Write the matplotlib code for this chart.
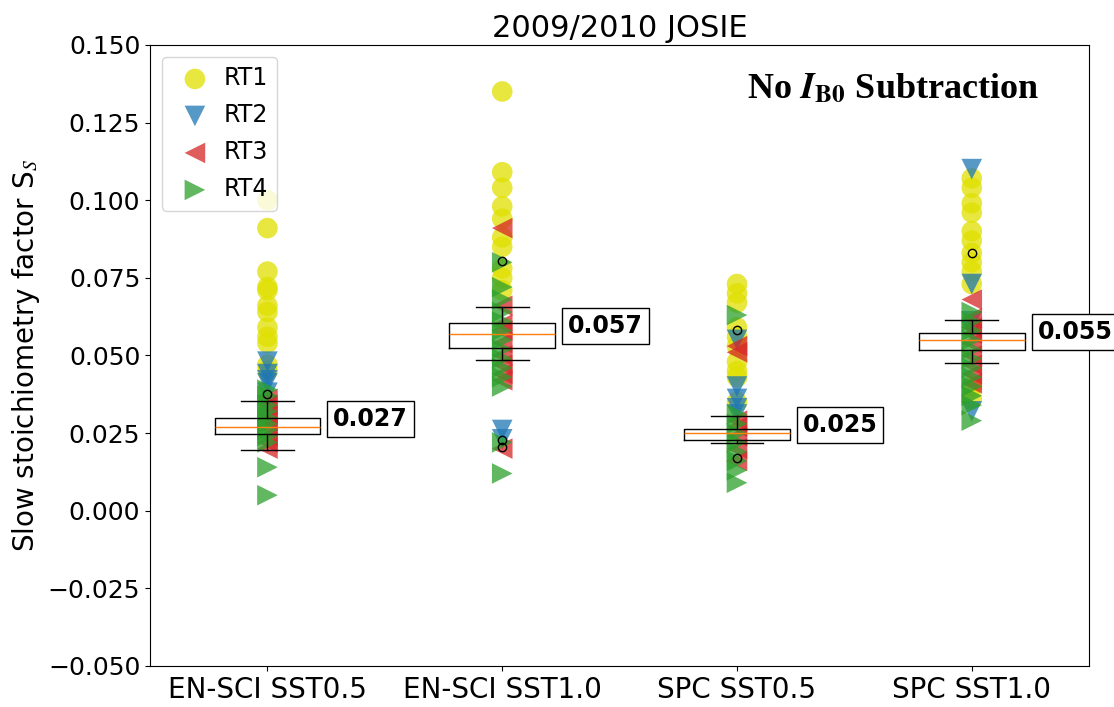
import matplotlib
matplotlib.use("Agg")
import matplotlib.pyplot as plt

plt.rcParams["mathtext.fontset"] = "stix"

categories = ["EN-SCI SST0.5", "EN-SCI SST1.0", "SPC SST0.5", "SPC SST1.0"]

# slow stoichiometry factor per run type, one list per category
rt1 = [
    [0.100, 0.091, 0.077, 0.072, 0.071, 0.066, 0.064, 0.059, 0.056, 0.054, 0.047, 0.045],
    [0.135, 0.109, 0.104, 0.098, 0.094, 0.088, 0.085, 0.078, 0.075, 0.071],
    [0.073, 0.070, 0.067, 0.059, 0.056, 0.053, 0.048, 0.045, 0.043, 0.035],
    [0.107, 0.104, 0.099, 0.096, 0.090, 0.087, 0.083, 0.080, 0.077, 0.073, 0.040, 0.036],
]
rt2 = [
    [0.048, 0.044, 0.042, 0.041, 0.038, 0.034, 0.030],
    [0.026, 0.023],
    [0.055, 0.040, 0.036, 0.033, 0.031],
    [0.110, 0.073, 0.061, 0.058, 0.032],
]
rt3 = [
    [0.036, 0.034, 0.031, 0.029, 0.027, 0.024, 0.022, 0.020],
    [0.091, 0.066, 0.060, 0.058, 0.054, 0.050, 0.047, 0.044, 0.042, 0.020],
    [0.053, 0.051, 0.029, 0.027, 0.024, 0.020, 0.016],
    [0.068, 0.062, 0.059, 0.057, 0.054, 0.050, 0.047, 0.044, 0.041],
]
rt4 = [
    [0.039, 0.037, 0.034, 0.032, 0.030, 0.028, 0.026, 0.024, 0.022, 0.014, 0.005],
    [0.080, 0.072, 0.068, 0.064, 0.061, 0.058, 0.055, 0.052, 0.049, 0.046, 0.043, 0.040, 0.022, 0.012],
    [0.063, 0.031, 0.028, 0.025, 0.022, 0.019, 0.016, 0.013, 0.009],
    [0.064, 0.061, 0.058, 0.055, 0.052, 0.049, 0.046, 0.043, 0.040, 0.037, 0.034, 0.029],
]

# box statistics
medians = [0.027, 0.057, 0.025, 0.055]
q1 = [0.0248, 0.0524, 0.0229, 0.0518]
q3 = [0.0300, 0.0605, 0.0263, 0.0572]
whislo = [0.0197, 0.0486, 0.0218, 0.0476]
whishi = [0.0354, 0.0657, 0.0304, 0.0615]
fliers = [[0.0377], [0.0805, 0.0229, 0.0204], [0.0583, 0.0170], [0.083]]

series = [
    ("RT1", rt1, "o", "#e0e000"),
    ("RT2", rt2, "v", "tab:blue"),
    ("RT3", rt3, "<", "tab:red"),
    ("RT4", rt4, ">", "tab:green"),
]

fig = plt.figure(figsize=(11.14, 7.07), dpi=100)
ax = fig.add_axes([0.1347, 0.058, 0.843, 0.8785])

for name, vals, marker, color in series:
    xs = [i + 1 for i, col in enumerate(vals) for _ in col]
    ys = [v for col in vals for v in col]
    ax.scatter(xs, ys, s=220, marker=marker, color=color, alpha=0.75,
               edgecolors="none", label=name)

stats = []
for i in range(len(categories)):
    stats.append({"med": medians[i], "q1": q1[i], "q3": q3[i],
                  "whislo": whislo[i], "whishi": whishi[i],
                  "fliers": fliers[i]})
ax.bxp(stats, positions=range(1, len(categories) + 1), widths=0.45,
       showfliers=True)

for i, m in enumerate(medians):
    ax.text(i + 1.28, m + 0.0025, f"{m:.3f}", fontsize=17, fontweight="bold",
            ha="left", va="center", clip_on=False,
            bbox=dict(boxstyle="square,pad=0.25", fc="white", ec="black"))

ax.set_xlim(0.5, 4.5)
ax.set_ylim(-0.05, 0.15)
ax.set_xticks(range(1, len(categories) + 1))
ax.set_xticklabels(categories)
ax.tick_params(axis="y", labelsize=18)
ax.tick_params(axis="x", labelsize=20)
ax.set_title("2009/2010 JOSIE", fontsize=22)
ax.set_ylabel("Slow stoichiometry factor S$_S$", fontsize=20)
ax.legend(loc="upper left", fontsize=17, labelspacing=0.55, handletextpad=0.2)

ax.text(0.947, 0.928, r"No $\mathbfit{I}_{\mathbf{B0}}$ Subtraction",
        transform=ax.transAxes, ha="right", va="center",
        family="Liberation Serif", fontweight="bold", fontsize=26)

fig.savefig("out.png", dpi=100)
